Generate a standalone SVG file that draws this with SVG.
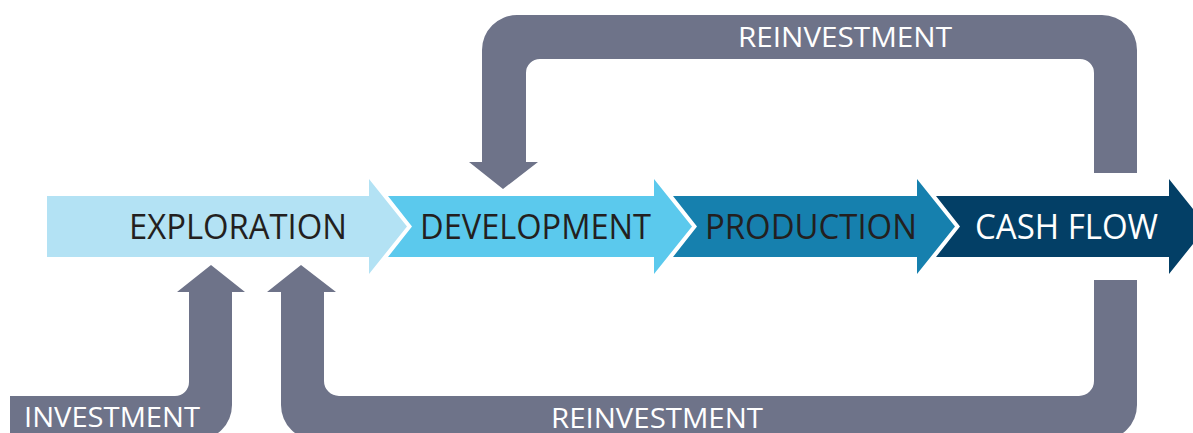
<svg xmlns="http://www.w3.org/2000/svg" width="1193" height="433" viewBox="0 0 1193 433">
<style>
.flow{fill:#6e7389;}
.lbl{font-family:"Open Sans","Liberation Sans",sans-serif;font-size:34px;}
.glbl{font-family:"Open Sans","Liberation Sans",sans-serif;font-size:28px;fill:#ffffff;}
.dark{fill:#231f20;}
</style>
<rect width="1193" height="433" fill="#ffffff"/>
<g id="connectors">
<path class="flow" d="M1137,173 L1137,50 A35,35 0 0 0 1102,15 L517,15 A35,35 0 0 0 482,50 L482,162 L469,162 L503,189 L538,162 L526,162 L526,73 A14,14 0 0 1 540,59 L1080,59 A14,14 0 0 1 1094,73 L1094,173 Z"/>
<path class="flow" d="M1094,280 L1137,280 L1137,405 A35,35 0 0 1 1102,440 L316,440 A35,35 0 0 1 281,405 L281,292 L267,292 L301,265 L336,292 L324,292 L324,381 A15,15 0 0 0 339,396 L1079,396 A15,15 0 0 0 1094,381 Z"/>
<path class="flow" d="M10,396 L175,396 A14,14 0 0 0 189,382 L189,292 L177,292 L211,265 L245,292 L232,292 L232,405 A35,35 0 0 1 197,440 L10,440 Z"/>
<text class="glbl" x="738" y="47" textLength="214" lengthAdjust="spacingAndGlyphs">REINVESTMENT</text>
<text class="glbl" x="551" y="428" textLength="212" lengthAdjust="spacingAndGlyphs">REINVESTMENT</text>
<text class="glbl" x="24" y="427" textLength="176" lengthAdjust="spacingAndGlyphs">INVESTMENT</text>
</g>
<g id="exploration">
<path fill="#b3e2f4" d="M47,196 L369,196 L369,179 L407,226.5 L369,274 L369,257 L47,257 Z"/>
<text class="lbl dark" x="129" y="239" textLength="218" lengthAdjust="spacingAndGlyphs">EXPLORATION</text>
</g>
<g id="development">
<path fill="#5bc9ed" d="M388,196 L654,196 L654,179 L692,226.5 L654,274 L654,257 L388,257 L412,226.5 Z"/>
<text class="lbl dark" x="420" y="239" textLength="231" lengthAdjust="spacingAndGlyphs">DEVELOPMENT</text>
</g>
<g id="production">
<path fill="#1680ae" d="M673,196 L917,196 L917,179 L955,226.5 L917,274 L917,257 L673,257 L697,226.5 Z"/>
<text class="lbl dark" x="705" y="239" textLength="212" lengthAdjust="spacingAndGlyphs">PRODUCTION</text>
</g>
<g id="cashflow">
<path fill="#033f66" d="M936,196 L1169,196 L1169,179 L1207,226.5 L1169,274 L1169,257 L936,257 L960,226.5 Z"/>
<text class="lbl" fill="#ffffff" x="975" y="239" textLength="183" lengthAdjust="spacingAndGlyphs">CASH FLOW</text>
</g>
</svg>
